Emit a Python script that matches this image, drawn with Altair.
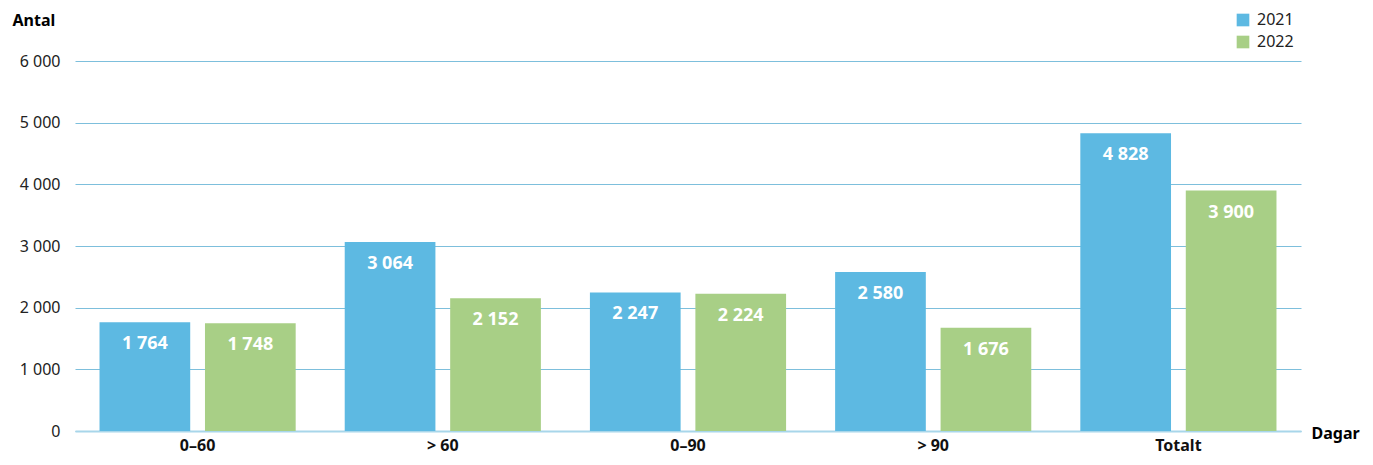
import altair as alt
import pandas as pd

categories = ["0–60", "> 60", "0–90", "> 90", "Totalt"]
years = ["2021", "2022"]
values_2021 = [1764, 3064, 2247, 2580, 4828]
values_2022 = [1748, 2152, 2224, 1676, 3900]

rows = []
for c, a, b in zip(categories, values_2021, values_2022):
    rows.append({"cat": c, "year": "2021", "value": a})
    rows.append({"cat": c, "year": "2022", "value": b})
df = pd.DataFrame(rows)

FONT = "Noto Sans"
fmt = "replace(format(datum.value, ','), ',', ' ')"

base = alt.Chart(df).encode(
    x=alt.X("cat:N", sort=categories,
            scale=alt.Scale(paddingInner=0.2, paddingOuter=0.1),
            axis=alt.Axis(title="Dagar", titleX=1236, titleY=2, titleAngle=0,
                          titleAlign="left", titleBaseline="middle",
                          titleFont=FONT, titleFontSize=16, titleFontWeight="bold",
                          titleColor="#000", labelAngle=0, labelFont=FONT,
                          labelFontSize=16, labelFontWeight="bold", labelColor="#111",
                          labelPadding=6, ticks=False, domain=True,
                          domainColor="#A8D6EA", domainWidth=2, grid=False)),
    xOffset=alt.XOffset("year:N", scale=alt.Scale(paddingInner=0.14, paddingOuter=0)),
)

bars = base.mark_bar().encode(
    y=alt.Y("value:Q", scale=alt.Scale(domain=[0, 6000]),
            axis=alt.Axis(values=[0, 1000, 2000, 3000, 4000, 5000, 6000],
                          labelExpr=fmt, title="Antal", titleAngle=0,
                          titleX=-63, titleY=-41, titleAlign="left",
                          titleBaseline="middle", titleFont=FONT, titleFontSize=16,
                          titleFontWeight="bold", titleColor="#000",
                          labelFont=FONT, labelFontSize=16, labelColor="#222",
                          labelPadding=15, ticks=False, domain=False,
                          grid=True, gridColor="#7DBFDC", gridWidth=1)),
    color=alt.Color("year:N", scale=alt.Scale(domain=years, range=["#5DB9E2", "#A8CF86"]),
                    legend=alt.Legend(title=None, orient="none", legendX=1160, legendY=-49,
                                      symbolType="square", symbolSize=160,
                                      symbolStrokeWidth=0, labelFont=FONT,
                                      labelFontSize=16, labelColor="#222",
                                      rowPadding=6, labelOffset=6)),
)

labels = base.transform_calculate(
    lab="replace(format(datum.value, ','), ',', ' ')"
).mark_text(color="white", font=FONT, fontSize=18, fontWeight="bold",
            baseline="top", dy=13).encode(
    y=alt.Y("value:Q"),
    text="lab:N",
)

chart = (bars + labels).properties(
    width=1226, height=370,
    autosize=alt.AutoSizeParams(type="none"),
    padding={"left": 67, "top": 53, "right": 62, "bottom": 26},
    background="white",
).configure_view(strokeWidth=0, stroke="transparent")

chart.save("out.html", embed_options={"renderer": "svg", "actions": False})
